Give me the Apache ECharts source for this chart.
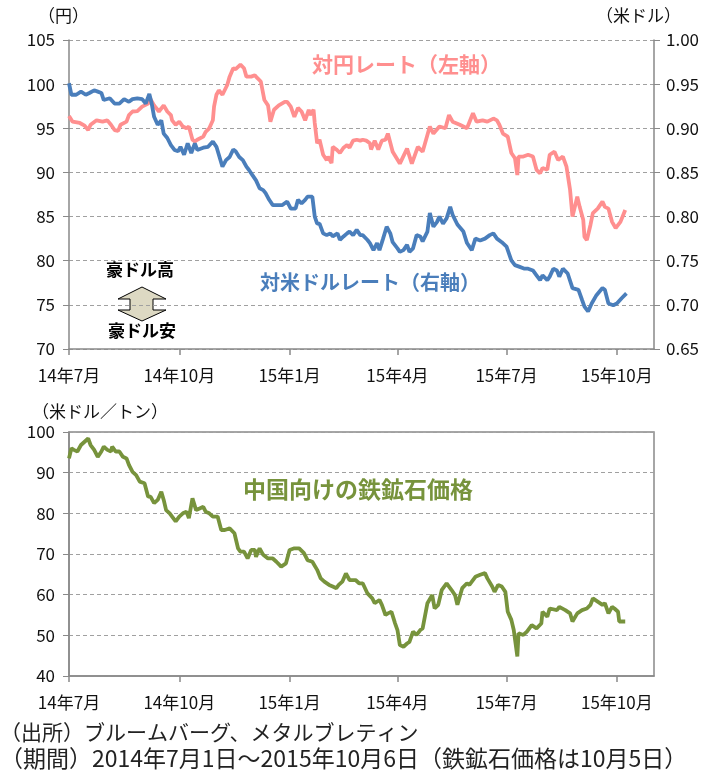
<!DOCTYPE html>
<html>
<head>
<meta charset="utf-8">
<script src="https://cdn.jsdelivr.net/npm/echarts@6/dist/echarts.min.js"></script>
<style>
html,body{margin:0;padding:0;background:#fff;}
#chart{width:722px;height:774px;}
</style>
</head>
<body>
<div id="chart"></div>
<script>
// x values: days since 2014-07-01
const tickDays = [0, 92, 184, 274, 365, 457];
const tickLabels = ['14年7月', '14年10月', '15年1月', '15年4月', '15年7月', '15年10月'];
const axisEndDay = 488;

// AUD/JPY (left axis, yen)
const audJpy = [[0,96.4],[3,95.75],[9,95.6],[13,95.3],[16,94.8],[18,95.4],[23,95.9],[28,95.75],[32,95.9],[35,95.4],[38,94.8],[41,94.7],[43,95.4],[48,95.75],[50,96.5],[53,96.9],[57,96.95],[61,97.45],[66,97.8],[68,98.3],[71,97.6],[75,96.9],[79,97.6],[82,96.9],[85,96.5],[86,95.9],[89,95.4],[92,95.75],[95,95.2],[98,95.0],[100,95.2],[103,93.7],[105,93.5],[107,93.7],[112,94.05],[114,94.6],[117,95.0],[120,95.9],[121,97.45],[123,98.8],[125,99.3],[128,98.8],[132,99.9],[134,100.85],[137,101.8],[139,101.7],[143,102.2],[146,101.8],[148,100.85],[152,100.85],[155,101],[157,100.7],[160,100.3],[163,98.2],[166,97.6],[168,95.75],[171,97.1],[175,97.6],[180,98.0],[182,98.0],[185,97.45],[188,96.3],[191,97.3],[194,96.9],[197,95.9],[200,97.1],[201,96.5],[204,97.1],[205,95.6],[207,93.3],[209,93.7],[212,92.0],[215,91.4],[216,91.8],[219,91.05],[220,92.9],[223,92.6],[226,92.2],[229,92.8],[232,93.1],[234,92.8],[237,93.6],[240,93.7],[243,93.6],[245,93.7],[248,93.6],[251,93.3],[252,92.6],[255,93.6],[258,92.6],[261,93.6],[264,93.7],[266,94.4],[270,92.35],[276,91.0],[282,92.7],[286,91.0],[291,92.9],[295,92.35],[301,95.2],[304,94.4],[309,95.2],[314,95.0],[317,96.5],[320,95.75],[326,95.4],[332,95.0],[337,96.7],[340,95.75],[345,95.9],[349,95.75],[354,96.1],[357,95.9],[359,95.4],[362,94.4],[366,94.05],[369,92.2],[372,91.6],[374,89.7],[375,91.8],[379,91.8],[383,92.0],[387,91.8],[390,90.3],[393,89.9],[395,90.5],[399,90.3],[401,92.0],[405,92.35],[408,91.4],[412,91.8],[415,90.65],[418,88.0],[420,85.0],[421,84.8],[424,87.25],[426,86.1],[429,84.6],[430,82.7],[432,82.35],[435,84.05],[437,85.4],[441,85.9],[445,86.7],[447,86.1],[450,85.9],[453,84.4],[456,83.7],[460,84.4],[464,85.75]];

// AUD/USD (right axis, US dollars)
const audUsd = [[0,0.951],[2,0.938],[6,0.938],[10,0.9415],[14,0.938],[17,0.940],[21,0.943],[24,0.9415],[27,0.940],[29,0.932],[34,0.934],[38,0.928],[42,0.928],[46,0.933],[50,0.930],[53,0.933],[57,0.934],[61,0.933],[64,0.928],[67,0.939],[69,0.928],[71,0.913],[74,0.904],[77,0.909],[79,0.894],[82,0.889],[85,0.881],[88,0.8755],[91,0.874],[93,0.879],[96,0.870],[99,0.883],[102,0.872],[105,0.883],[107,0.8755],[112,0.878],[116,0.879],[120,0.885],[123,0.879],[125,0.870],[128,0.8565],[131,0.864],[134,0.8675],[137,0.876],[139,0.874],[142,0.8675],[145,0.864],[148,0.8565],[150,0.853],[153,0.847],[156,0.841],[159,0.832],[162,0.830],[164,0.8265],[167,0.819],[170,0.813],[174,0.813],[178,0.813],[182,0.817],[185,0.809],[189,0.809],[191,0.819],[194,0.815],[197,0.819],[199,0.8225],[203,0.8225],[205,0.800],[207,0.792],[209,0.792],[212,0.781],[215,0.779],[218,0.781],[220,0.7775],[224,0.781],[226,0.7735],[229,0.7775],[232,0.781],[234,0.783],[237,0.779],[240,0.785],[243,0.779],[245,0.779],[249,0.7735],[251,0.770],[254,0.762],[257,0.770],[259,0.762],[262,0.775],[265,0.7885],[268,0.781],[270,0.771],[274,0.764],[276,0.760],[279,0.762],[282,0.768],[284,0.760],[287,0.764],[290,0.779],[293,0.7775],[295,0.772],[299,0.783],[301,0.804],[304,0.7885],[307,0.794],[309,0.800],[312,0.792],[315,0.798],[318,0.811],[320,0.802],[324,0.791],[329,0.783],[332,0.770],[336,0.762],[339,0.775],[343,0.773],[347,0.775],[351,0.779],[354,0.781],[357,0.775],[361,0.771],[365,0.766],[369,0.7505],[372,0.745],[376,0.743],[380,0.741],[383,0.741],[387,0.739],[390,0.7335],[393,0.728],[395,0.7335],[399,0.728],[401,0.732],[404,0.741],[407,0.739],[409,0.732],[412,0.741],[416,0.7355],[420,0.719],[425,0.717],[428,0.7055],[430,0.698],[433,0.6925],[436,0.7015],[440,0.711],[445,0.719],[447,0.717],[450,0.7015],[454,0.6995],[457,0.7015],[461,0.7075],[465,0.713]];

// Iron ore price for China (US$/ton)
const ironOre = [[0,93.5],[2,96.0],[4,95.6],[7,95.2],[10,96.8],[13,97.6],[16,98.4],[18,96.8],[21,95.6],[24,93.9],[27,95.2],[29,96.4],[32,95.6],[35,95.2],[36,96.4],[39,95.2],[42,95.2],[45,93.9],[48,93.5],[50,91.9],[53,90.2],[56,89.4],[59,87.8],[63,87.4],[66,84.1],[68,84.1],[71,82.5],[74,83.3],[77,85.3],[79,83.3],[81,80.8],[84,80.0],[86,79.2],[89,78.0],[92,79.2],[95,80.0],[98,80.4],[100,78.8],[103,83.7],[106,80.8],[109,81.2],[112,81.6],[114,80.4],[117,80.0],[120,79.2],[124,79.2],[127,75.9],[130,75.9],[134,76.3],[138,75.1],[141,71.4],[143,70.6],[146,70.6],[149,68.9],[152,71.0],[155,71.0],[156,69.3],[159,71.4],[162,69.8],[166,68.9],[170,68.9],[173,68.1],[177,66.9],[181,67.7],[184,71.0],[188,71.4],[192,71.4],[196,70.2],[199,68.5],[203,68.1],[207,66.1],[210,64.0],[213,63.2],[217,62.4],[220,62.0],[223,61.6],[225,62.4],[228,63.2],[231,65.2],[234,63.6],[237,63.6],[239,63.6],[242,62.8],[245,62.8],[249,60.3],[253,59.1],[255,57.9],[259,58.7],[261,57.5],[264,55.0],[266,55.4],[269,55.8],[272,52.95],[274,51.3],[276,47.6],[279,47.2],[282,48.0],[284,48.4],[287,50.9],[290,50.1],[293,51.3],[295,51.7],[299,57.9],[303,59.9],[305,56.6],[308,57.5],[311,61.2],[315,62.8],[319,61.2],[322,59.9],[324,57.5],[328,61.6],[332,62.8],[334,62.4],[339,64.4],[343,64.9],[347,65.3],[349,64.0],[353,62.0],[355,60.7],[358,62.4],[361,62.0],[364,60.7],[366,55.8],[369,53.8],[371,51.3],[374,44.8],[375,50.5],[379,50.1],[382,50.9],[386,52.5],[390,51.7],[394,52.9],[395,55.8],[399,54.6],[401,56.6],[407,56.2],[409,57.0],[414,56.2],[418,55.4],[420,53.4],[424,55.4],[428,56.2],[432,56.6],[435,57.5],[437,59.1],[441,58.3],[445,57.5],[447,57.9],[450,55.4],[453,57.0],[455,56.6],[458,55.8],[459,53.4],[464,53.4]];

const seriesNames = ['対円レート（左軸）', '対米ドルレート（右軸）', '中国向けの鉄鉱石価格'];
const footnotes = ['（出所）ブルームバーグ、メタルブレティン', '（期間）2014年7月1日～2015年10月6日（鉄鉱石価格は10月5日）'];

const FONT = '"Noto Sans CJK JP", "Noto Sans", sans-serif';
const AX = '#898989';
const GRIDC = '#a0a0a0';
const PINK = '#ff8f8f';
const BLUE = '#4a7ebb';
const GREEN = '#77933c';

function xAxisCfg(gridIndex) {
  return {
    type: 'value', gridIndex: gridIndex, min: 0, max: axisEndDay,
    axisLine: {show: true, lineStyle: {color: AX, width: 1.5}},
    axisTick: {show: true, length: 6, customValues: tickDays, lineStyle: {color: AX, width: 1.5}},
    axisLabel: {customValues: tickDays, margin: 18, fontSize: 17, color: '#111', fontFamily: FONT,
      formatter: v => { const i = tickDays.indexOf(Math.round(v)); return i >= 0 ? tickLabels[i] : ''; }},
    splitLine: {show: false}
  };
}

const chart = echarts.init(document.getElementById('chart'), null, {renderer: 'canvas'});
chart.setOption({
  animation: false,
  backgroundColor: '#fff',
  grid: [
    {left: 69, right: 68, top: 40, height: 309},
    {left: 69, right: 68, top: 432, height: 244, show: true, borderColor: AX, borderWidth: 1.5}
  ],
  xAxis: [xAxisCfg(0), xAxisCfg(1)],
  yAxis: [
    {type: 'value', gridIndex: 0, min: 70, max: 105, interval: 5, position: 'left',
      axisLine: {show: true, lineStyle: {color: AX, width: 1.5}},
      axisTick: {show: true, length: 6, lineStyle: {color: AX}},
      axisLabel: {margin: 14, fontSize: 17, color: '#111', fontFamily: FONT},
      splitLine: {show: true, lineStyle: {color: GRIDC, type: [4, 3], width: 1}}},
    {type: 'value', gridIndex: 0, min: 0.65, max: 1.00, interval: 0.05, position: 'right',
      axisLine: {show: true, lineStyle: {color: AX, width: 1.5}},
      axisTick: {show: true, length: 6, lineStyle: {color: AX}},
      axisLabel: {margin: 12, fontSize: 17, color: '#111', fontFamily: FONT, formatter: v => v.toFixed(2)},
      splitLine: {show: false}},
    {type: 'value', gridIndex: 1, min: 40, max: 100, interval: 10,
      axisLine: {show: true, lineStyle: {color: AX, width: 1.5}},
      axisTick: {show: true, length: 6, lineStyle: {color: AX}},
      axisLabel: {margin: 14, fontSize: 17, color: '#111', fontFamily: FONT},
      splitLine: {show: true, lineStyle: {color: GRIDC, type: [4, 3], width: 1}}}
  ],
  series: [
    {name: seriesNames[0], type: 'line', xAxisIndex: 0, yAxisIndex: 0, data: audJpy, showSymbol: false,
      lineStyle: {color: PINK, width: 3.8}, itemStyle: {color: PINK}},
    {name: seriesNames[1], type: 'line', xAxisIndex: 0, yAxisIndex: 1, data: audUsd, showSymbol: false,
      lineStyle: {color: BLUE, width: 3.8}, itemStyle: {color: BLUE}},
    {name: seriesNames[2], type: 'line', xAxisIndex: 1, yAxisIndex: 2, data: ironOre, showSymbol: false,
      lineStyle: {color: GREEN, width: 3.8}, itemStyle: {color: GREEN}}
  ],
  graphic: [
    {type: 'text', left: 38, top: 7, style: {text: '（円）', font: '17px ' + FONT, fill: '#111'}},
    {type: 'text', left: 596, top: 7, style: {text: '（米ドル）', font: '17px ' + FONT, fill: '#111'}},
    {type: 'text', left: 32, top: 403, style: {text: '（米ドル／トン）', font: '17px ' + FONT, fill: '#111'}},
    {type: 'text', left: 312, top: 54, style: {text: seriesNames[0], font: 'bold 21px ' + FONT, fill: PINK}},
    {type: 'text', left: 260, top: 272, style: {text: seriesNames[1], font: 'bold 20px ' + FONT, fill: BLUE}},
    {type: 'text', left: 243, top: 478, style: {text: seriesNames[2], font: 'bold 23px ' + FONT, fill: GREEN}},
    {type: 'text', left: 106, top: 261, style: {text: '豪ドル高', font: 'bold 17px ' + FONT, fill: '#000'}},
    {type: 'text', left: 108, top: 322, style: {text: '豪ドル安', font: 'bold 17px ' + FONT, fill: '#000'}},
    {type: 'polygon', shape: {points: [[142,287],[166,299],[153,299],[153,310],[166,310],[142,321],[118,310],[130,310],[130,299],[118,299]]},
      style: {fill: '#ddd9c3', stroke: '#000', lineWidth: 1}},
    {type: 'text', left: 0, top: 722, style: {text: footnotes[0], font: '21px ' + FONT, fill: '#222'}},
    {type: 'text', left: 0, top: 747, style: {text: footnotes[1], font: '23px ' + FONT, fill: '#222'}}
  ]
});
</script>
</body>
</html>
